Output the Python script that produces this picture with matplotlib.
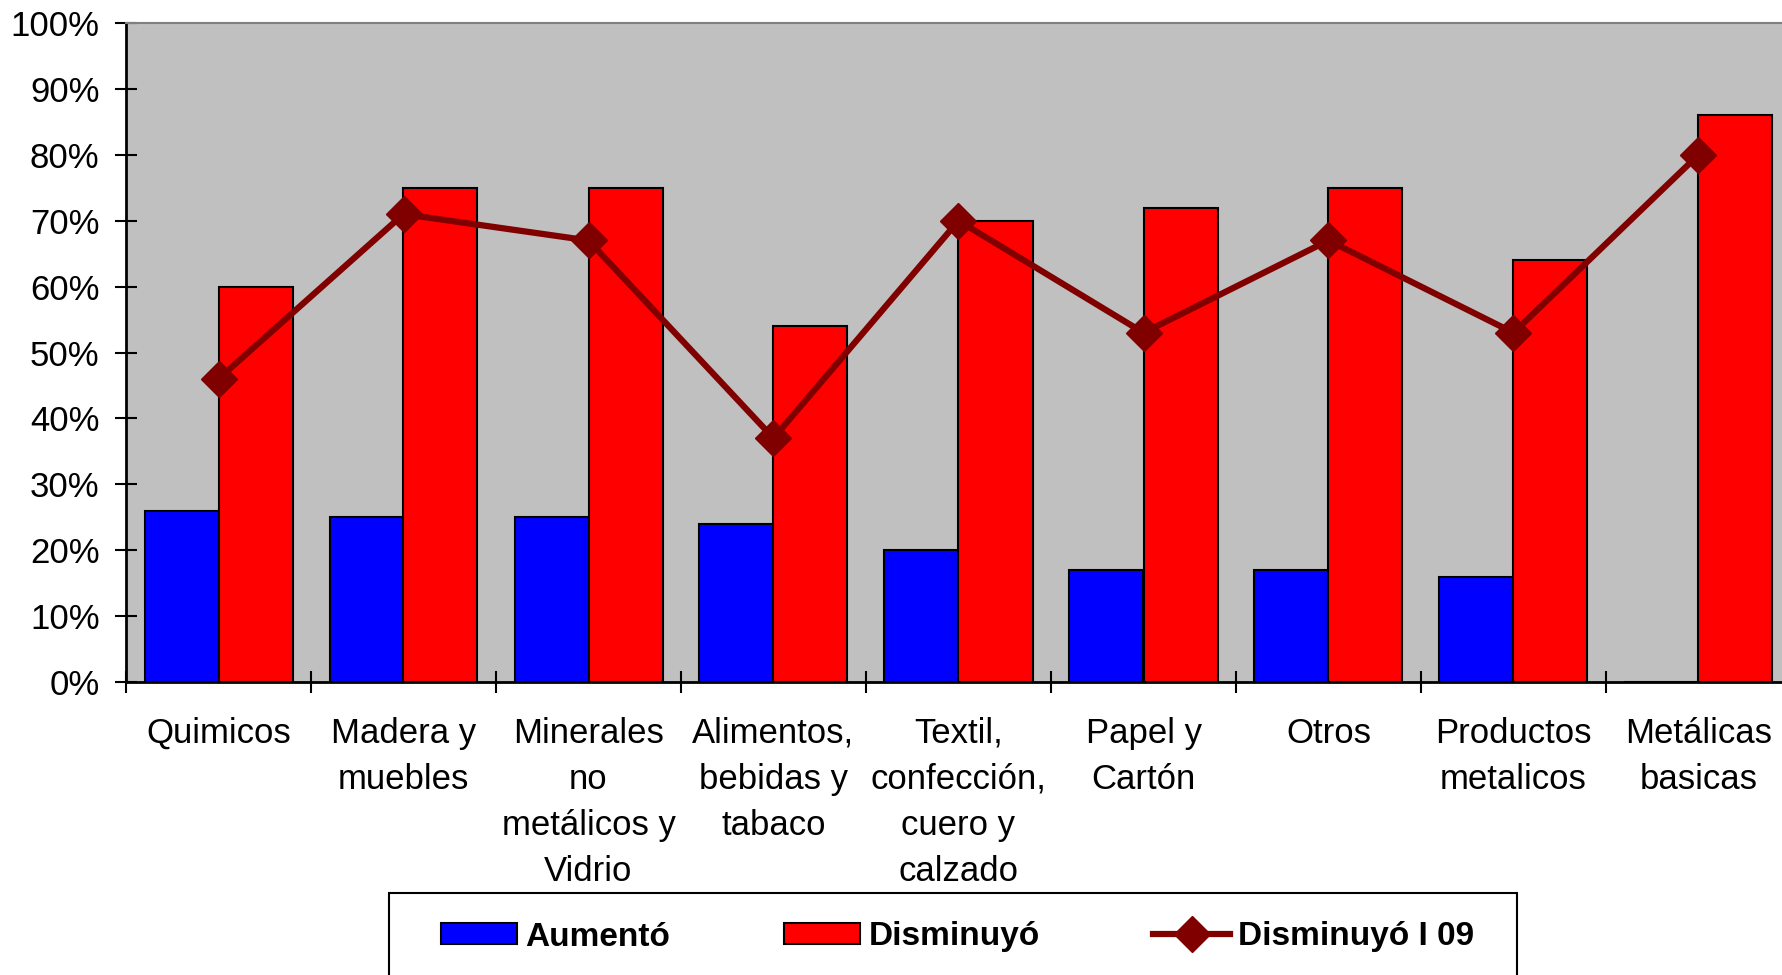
import matplotlib
matplotlib.use("Agg")
import matplotlib.pyplot as plt
import numpy as np
from matplotlib.patches import Rectangle
from matplotlib.ticker import FixedLocator, FuncFormatter

plt.rcParams['font.family'] = ['Liberation Sans', 'DejaVu Sans']

categories = ["Quimicos", "Madera y\nmuebles", "Minerales\nno\nmetálicos y\nVidrio",
              "Alimentos,\nbebidas y\ntabaco", "Textil,\nconfección,\ncuero y\ncalzado",
              "Papel y\nCartón", "Otros", "Productos\nmetalicos", "Metálicas\nbasicas"]
aumento = [26, 25, 25, 24, 20, 17, 17, 16, 0]
disminuyo = [60, 75, 75, 54, 70, 72, 75, 64, 86]
disminuyo_i09 = [46, 71, 67, 37, 70, 53, 67, 53, 80]
yticks = [0, 10, 20, 30, 40, 50, 60, 70, 80, 90, 100]

W, H = 1782, 975
fig = plt.figure(figsize=(W / 100, H / 100), dpi=100)
ax = fig.add_axes([126 / W, 1 - 682 / H, (1791 - 126) / W, (682 - 23) / H])
ax.set_facecolor('#C0C0C0')

x = np.arange(len(categories))
bw = 0.4
b1 = ax.bar(x - bw / 2, aumento, width=bw, color='#0000FF', edgecolor='black', linewidth=1.5,
            label='Aumentó', zorder=2)
b2 = ax.bar(x + bw / 2, disminuyo, width=bw, color='#FF0000', edgecolor='black', linewidth=1.5,
            label='Disminuyó', zorder=2)
l1, = ax.plot(x, disminuyo_i09, color='#800000', linewidth=4.5, marker='D',
              markersize=18, markerfacecolor='#800000', markeredgecolor='#800000',
              label='Disminuyó I 09', zorder=3, clip_on=False)

ax.set_xlim(-0.5, len(categories) - 0.5)
ax.set_ylim(0, 100)

ax.yaxis.set_major_locator(FixedLocator(yticks))
ax.yaxis.set_major_formatter(FuncFormatter(lambda v, p: f"{int(round(v))}%"))
ax.tick_params(axis='y', direction='inout', length=16, width=1.5, labelsize=25, pad=11)

ax.xaxis.set_major_locator(FixedLocator(np.arange(len(categories) + 1) - 0.5))
ax.xaxis.set_major_formatter(FuncFormatter(lambda v, p: ""))
ax.set_xticks(x, minor=True)
ax.set_xticklabels(categories, minor=True, fontsize=25, linespacing=1.5, va='top')
ax.tick_params(axis='x', which='major', direction='inout', length=16, width=1.5)
ax.tick_params(axis='x', which='minor', length=0, pad=25)

for s in ['left', 'bottom']:
    ax.spines[s].set_linewidth(2)
    ax.spines[s].set_color('black')
ax.spines['top'].set_color('#808080')
ax.spines['top'].set_linewidth(1.5)
ax.spines['right'].set_visible(False)

# legend frame
fig.patches.append(Rectangle((389 / W, -0.05), (1517 - 389) / W, 1 - 893 / H + 0.05,
                             transform=fig.transFigure, facecolor='white',
                             edgecolor='black', linewidth=1.5, zorder=0))
leg = fig.legend([b1, b2, l1], ['Aumentó', 'Disminuyó', 'Disminuyó I 09'],
                 loc='center', bbox_to_anchor=(((443 + 1472) / 2) / W, 1 - 937 / H),
                 ncol=3, frameon=False, prop={'weight': 'bold', 'size': 24},
                 handlelength=2.3, handleheight=0.6, handletextpad=0.25, columnspacing=3.4,
                 borderpad=0)

fig.savefig('out.png', dpi=100)
